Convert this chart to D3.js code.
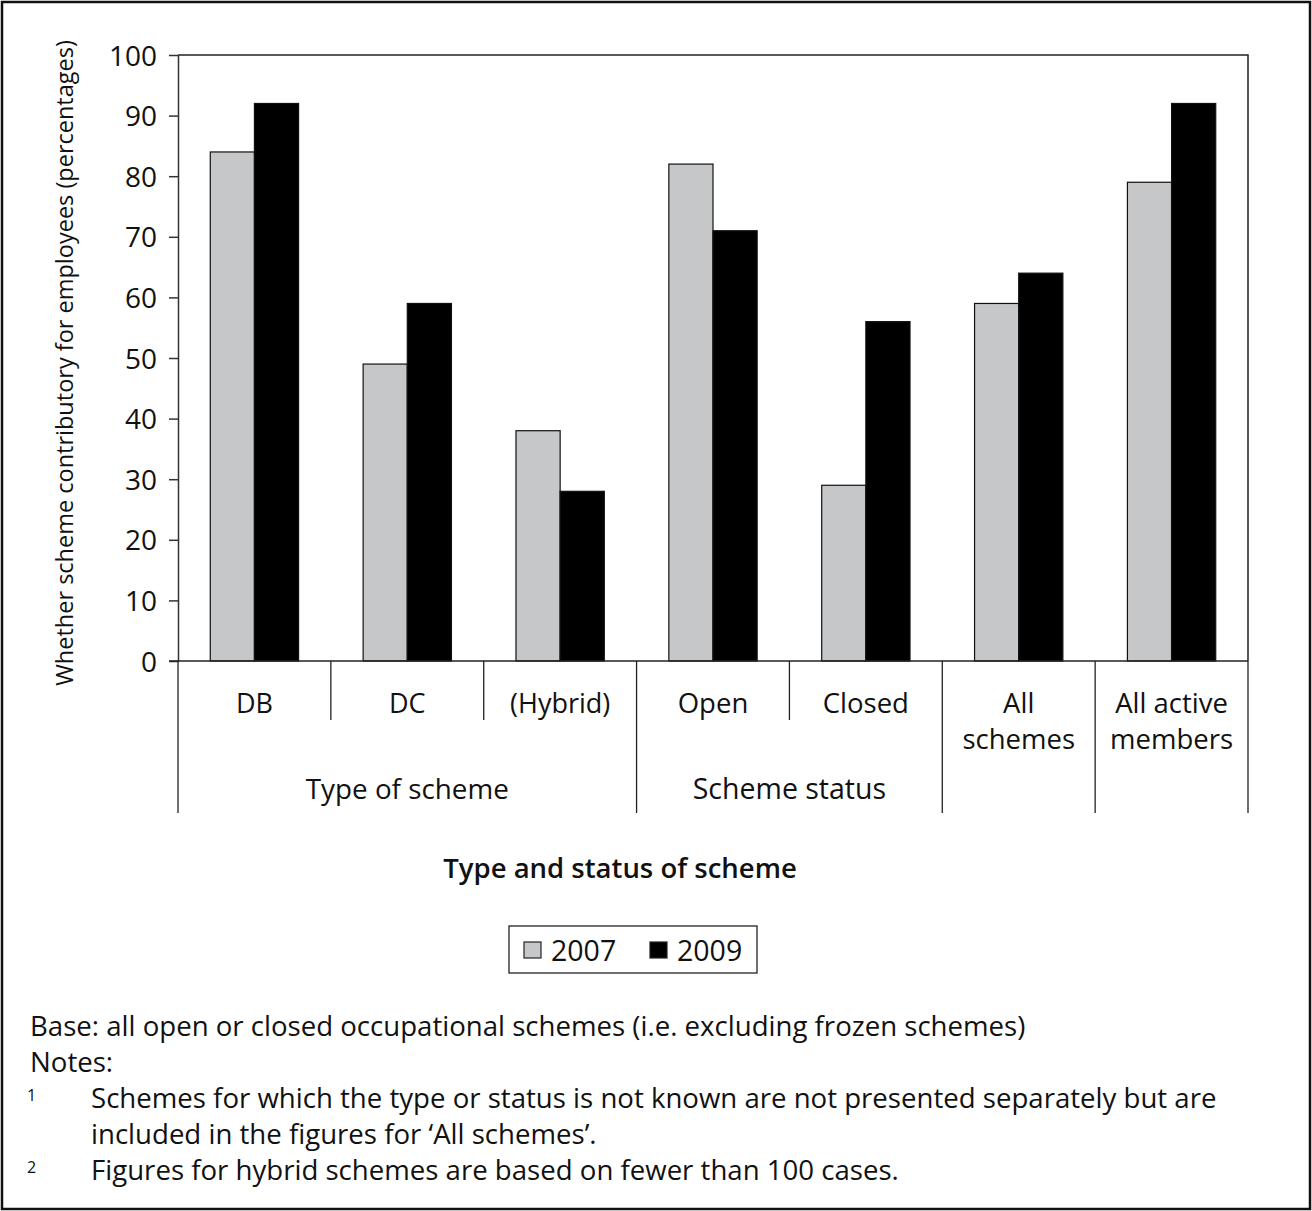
<!DOCTYPE html>
<html>
<head>
<meta charset="utf-8">
<script src="https://cdn.jsdelivr.net/npm/d3@7"></script>
<style>
  html, body { margin: 0; padding: 0; background: #fff; }
  svg { display: block; }
  text { font-family: "Open Sans", "Noto Sans", sans-serif; fill: #111; }
</style>
</head>
<body>
<svg id="chart" width="1312" height="1211"></svg>
<script>
// Share of schemes that are contributory for employees, by type and status
const categories = ["DB", "DC", "(Hybrid)", "Open", "Closed", "All schemes", "All active members"];
const categoryLines = [["DB"], ["DC"], ["(Hybrid)"], ["Open"], ["Closed"], ["All", "schemes"], ["All active", "members"]];
const series = ["2007", "2009"];
const values2007 = [84, 49, 38, 82, 29, 59, 79];
const values2009 = [92, 59, 28, 71, 56, 64, 92];
const yTicks = [0, 10, 20, 30, 40, 50, 60, 70, 80, 90, 100];
// Higher-level groupings of the categories (index ranges, end exclusive)
const groups = [
  { label: "Type of scheme", start: 0, end: 3 },
  { label: "Scheme status", start: 3, end: 5 },
  { label: "", start: 5, end: 6 },
  { label: "", start: 6, end: 7 }
];
const yTitle = "Whether scheme contributory for employees (percentages)";
const xTitle = "Type and status of scheme";
const notes = [
  "Base: all open or closed occupational schemes (i.e. excluding frozen schemes)",
  "Notes:"
];
const footnotes = [
  { mark: "1", lines: ["Schemes for which the type or status is not known are not presented separately but are",
                       "included in the figures for \u2018All schemes\u2019."] },
  { mark: "2", lines: ["Figures for hybrid schemes are based on fewer than 100 cases."] }
];

const colors = { "2007": "#c6c7c9", "2009": "#000000" };
const seriesValues = { "2007": values2007, "2009": values2009 };

const svg = d3.select("#chart");
const W = 1312, H = 1211;

// outer frame
svg.append("rect").attr("x", 2).attr("y", 2).attr("width", W - 4).attr("height", H - 4)
  .attr("fill", "none").attr("stroke", "#111").attr("stroke-width", 2.5);

const plot = { left: 178, right: 1248, top: 55, bottom: 661 };

const x0 = d3.scaleBand().domain(categories).range([plot.left, plot.right]).padding(0);
const x1 = d3.scaleBand().domain(series).range([0, x0.bandwidth()]).paddingInner(0).paddingOuter(0.731);
const y = d3.scaleLinear().domain([0, 100]).range([plot.bottom, plot.top]);

// plot frame (top and right)
svg.append("path")
  .attr("d", `M${plot.left},${plot.top}H${plot.right}V${plot.bottom}`)
  .attr("fill", "none").attr("stroke", "#222").attr("stroke-width", 1.5);

// bars
const g = svg.append("g");
categories.forEach((c, i) => {
  series.forEach(s => {
    const v = seriesValues[s][i];
    g.append("rect")
      .attr("x", x0(c) + x1(s))
      .attr("y", y(v))
      .attr("width", x1.bandwidth())
      .attr("height", y(0) - y(v))
      .attr("fill", colors[s])
      .attr("stroke", "#111")
      .attr("stroke-width", 1.2);
  });
});

// y axis
const yAxis = d3.axisLeft(y).tickValues(yTicks).tickSize(9).tickPadding(12).tickSizeOuter(0);
const ya = svg.append("g").attr("transform", `translate(${plot.left},0)`).call(yAxis);
ya.select(".domain").attr("stroke", "#333").attr("stroke-width", 1.5);
ya.selectAll(".tick line").attr("stroke", "#333").attr("stroke-width", 1.5);
ya.selectAll(".tick text").attr("font-size", 28).attr("font-family", "'Open Sans', sans-serif")
  .attr("fill", "#111").attr("dy", "0.36em");

// x baseline
svg.append("line").attr("x1", plot.left - 9).attr("x2", plot.right)
  .attr("y1", plot.bottom).attr("y2", plot.bottom).attr("stroke", "#222").attr("stroke-width", 1.5);

// category separators: long at group boundaries, short inside groups
const groupEdges = new Set();
groups.forEach(gr => { groupEdges.add(gr.start); groupEdges.add(gr.end); });
for (let i = 0; i <= categories.length; i++) {
  const xx = i < categories.length ? x0(categories[i]) : plot.right;
  const long = groupEdges.has(i);
  svg.append("line").attr("x1", xx).attr("x2", xx)
    .attr("y1", plot.bottom).attr("y2", long ? 813 : 720)
    .attr("stroke", "#222").attr("stroke-width", 1.3);
}

// category labels
categories.forEach((c, i) => {
  const cx = x0(c) + x0.bandwidth() / 2;
  categoryLines[i].forEach((ln, k) => {
    svg.append("text").attr("x", cx).attr("y", 713 + k * 36)
      .attr("text-anchor", "middle").attr("font-size", i < 3 ? 27 : 27.5).text(ln);
  });
});

// group labels
groups.forEach((gr, gi) => {
  if (!gr.label) return;
  const xs = x0(categories[gr.start]);
  const xe = gr.end < categories.length ? x0(categories[gr.end]) : plot.right;
  svg.append("text").attr("x", (xs + xe) / 2).attr("y", 799)
    .attr("text-anchor", "middle").attr("font-size", gi === 0 ? 27.8 : 28.5).text(gr.label);
});

// axis titles
svg.append("text").attr("x", 620).attr("y", 878).attr("text-anchor", "middle")
  .attr("font-size", 27.5).attr("font-weight", 600).text(xTitle);
svg.append("text").attr("transform", `translate(73,363) rotate(-90)`)
  .attr("text-anchor", "middle").attr("font-size", 23.5).attr("font-weight", 500).text(yTitle);

// legend
const lg = svg.append("g");
lg.append("rect").attr("x", 509).attr("y", 926).attr("width", 248).attr("height", 47)
  .attr("fill", "#fff").attr("stroke", "#222").attr("stroke-width", 1.3);
const legendX = [524, 650];
series.forEach((s, i) => {
  lg.append("rect").attr("x", legendX[i]).attr("y", 942).attr("width", 17).attr("height", 16)
    .attr("fill", colors[s]).attr("stroke", "#222").attr("stroke-width", 1.2);
  lg.append("text").attr("x", legendX[i] + 27).attr("y", 961).attr("font-size", 28.5).text(s);
});

// notes
svg.append("text").attr("x", 30).attr("y", 1036).attr("font-size", 27.6).text(notes[0]);
svg.append("text").attr("x", 30).attr("y", 1072).attr("font-size", 27.6).text(notes[1]);
let ly = 1108;
footnotes.forEach(fn => {
  svg.append("text").attr("x", 27).attr("y", ly - 7).attr("font-size", 16).text(fn.mark);
  fn.lines.forEach(ln => {
    svg.append("text").attr("x", 91).attr("y", ly).attr("font-size", 27.6).text(ln);
    ly += 36;
  });
});
</script>
</body>
</html>
